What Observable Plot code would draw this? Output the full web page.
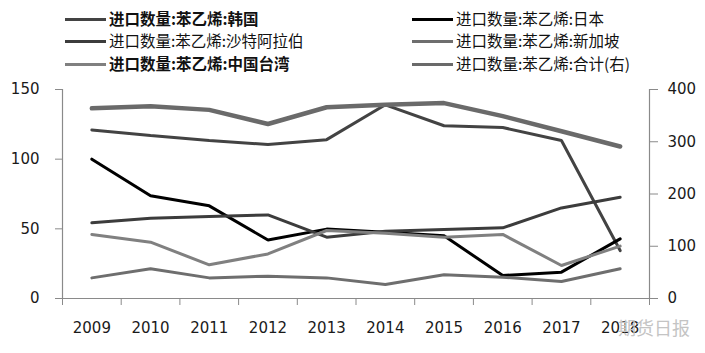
<!DOCTYPE html>
<html><head><meta charset="utf-8">
<script src="https://cdn.jsdelivr.net/npm/d3@7"></script>
<script src="https://cdn.jsdelivr.net/npm/@observablehq/plot@0.6"></script>
<style>
body{margin:0;background:#fff}
#wrap{position:relative;width:705px;height:353px;overflow:hidden}
#chart{position:absolute;left:0;top:0}
.lg{position:absolute;font-family:"Noto Sans CJK SC",sans-serif;font-size:15.5px;color:#111;white-space:nowrap;line-height:20px}
.lg .sw{display:inline-block;width:41px;height:3px;vertical-align:middle;margin-right:3px;position:relative;top:-1px}
.bold{font-weight:bold}
#wm{position:absolute;left:618px;top:314px;font-family:"Noto Sans CJK SC",sans-serif;font-size:18px;color:#c4c4c4}
</style></head>
<body><div id="wrap"><div id="chart"></div><div id="legend"></div><div id="wm">期货日报</div></div>
<script>
const years = [2009,2010,2011,2012,2013,2014,2015,2016,2017,2018];
const korea = [121,117,113.4,110.5,114,139,124,122.7,113.4,34.4];
const japan = [100,73.7,66.5,42,49.8,47.6,45,16.5,18.9,42.8];
const saudi = [54.3,57.6,58.9,60,44,48.3,49.5,50.7,65,72.7];
const singapore = [14.8,21.3,14.8,16,14.8,10,17,15.3,12.2,21.3];
const taiwan = [46,40.4,24.2,32,48.8,46.9,44,46,23.7,37.6];
const total = [364,368,361,334,366,371,374,349,320,291];
const leftTicks = [0,50,100,150];
const rightTicks = [0,100,200,300,400];
const leftMax = 150, rightMax = 400;

const series = [
  {name:"进口数量:苯乙烯:韩国", values:korea, color:"#434343", w:3, bold:true, right:false, col:0, row:0},
  {name:"进口数量:苯乙烯:日本", values:japan, color:"#000000", w:3, bold:false, right:false, col:1, row:0},
  {name:"进口数量:苯乙烯:沙特阿拉伯", values:saudi, color:"#3c3c3c", w:3, bold:false, right:false, col:0, row:1},
  {name:"进口数量:苯乙烯:新加坡", values:singapore, color:"#6e6e6e", w:3, bold:false, right:false, col:1, row:1},
  {name:"进口数量:苯乙烯:中国台湾", values:taiwan, color:"#808080", w:3, bold:true, right:false, col:0, row:2},
  {name:"进口数量:苯乙烯:合计(右)", values:total, color:"#6a6a6a", w:4.5, bold:false, right:true, col:1, row:2}
];

const rows = [];
for (const s of series) years.forEach((yr,i)=>rows.push({series:s.name, year:yr, value: s.right ? s.values[i]*leftMax/rightMax : s.values[i]}));
const bounds = years.map(y=>y-0.5).concat([years[years.length-1]+0.5]);

const plot = Plot.plot({
  width:705, height:353,
  marginLeft:62, marginRight:56, marginTop:89, marginBottom:55,
  style:{fontFamily:"DejaVu Sans", fontSize:"15px", color:"#1a1a1a", background:"#fff"},
  x:{type:"linear", domain:[bounds[0], bounds[bounds.length-1]]},
  y:{domain:[0,leftMax]},
  marks:[
    Plot.ruleY([0], {stroke:"#8a8a8a", strokeWidth:1.2}),
    Plot.ruleX([bounds[0], bounds[bounds.length-1]], {y1:0, y2:leftMax, stroke:"#8a8a8a", strokeWidth:1.2}),
    Plot.axisX({ticks:bounds, tickFormat:()=>"", tickSize:7, stroke:"#8a8a8a", label:null}),
    Plot.axisX({ticks:years, tickFormat:d=>String(d), tickSize:0, tickPadding:24, fontSize:15, label:null}),
    Plot.axisY({anchor:"left", ticks:leftTicks, tickSize:7, tickPadding:16, stroke:"#8a8a8a", fontSize:15, label:null}),
    Plot.axisY({anchor:"right", ticks:rightTicks.map(v=>v*leftMax/rightMax), tickFormat:d=>String(Math.round(d*rightMax/leftMax)), tickSize:8, tickPadding:10, stroke:"#8a8a8a", fontSize:15, label:null}),
    ...series.map(s=>Plot.line(rows.filter(r=>r.series===s.name), {x:"year", y:"value", stroke:s.color, strokeWidth:s.w, strokeLinejoin:"miter"}))
  ]
});
document.getElementById("chart").appendChild(plot);

const legend = document.getElementById("legend");
const colX = [65, 412], rowY = [8, 30, 53];
for (const s of series) {
  const d = document.createElement("div");
  d.className = "lg" + (s.bold ? " bold" : "");
  d.style.left = colX[s.col] + "px";
  d.style.top = rowY[s.row] + "px";
  d.innerHTML = `<span class="sw" style="background:${s.color}"></span>${s.name}`;
  legend.appendChild(d);
}
</script></body></html>
